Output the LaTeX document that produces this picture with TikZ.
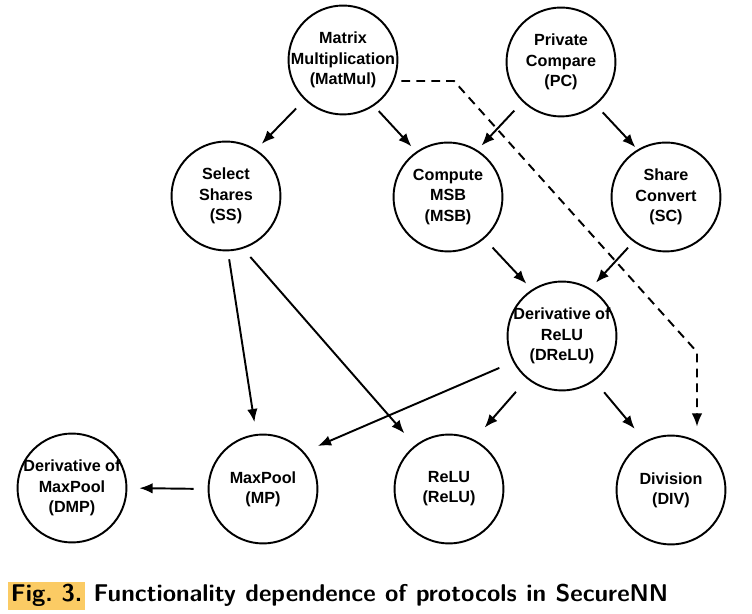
\documentclass[tikz,border=0pt]{standalone}
\usepackage{fontspec}
\setmainfont{Liberation Sans}
\usetikzlibrary{arrows.meta}
\definecolor{figyellow}{HTML}{FBCB64}
\tikzset{
  proto/.style={circle,draw,line width=1.1pt,minimum size=62pt,inner sep=-8pt,
    align=center,font=\fontsize{9.2}{11.5}\selectfont\bfseries},
  dep/.style={line width=1.1pt,-{Latex[length=7.5pt,width=6pt]}},
  depdash/.style={dep,dash pattern=on 5pt off 3.5pt},
  capfont/.style={font=\sffamily\bfseries\fontsize{13.8}{16}\selectfont},
}
\begin{document}
\begin{tikzpicture}[x=0.02cm,y=-0.02cm]
\useasboundingbox (0,0) rectangle (752,614);
% protocols
\node[proto] (mm)   at (343,60)  {Matrix\\Multiplication\\(MatMul)};
\node[proto] (pc)   at (561,62)  {Private\\Compare\\(PC)};
\node[proto] (ss)   at (226,196) {Select\\Shares\\(SS)};
\node[proto] (msb)  at (448,197) {Compute\\MSB\\(MSB)};
\node[proto] (sc)   at (666,197) {Share\\Convert\\(SC)};
\node[proto] (dr)   at (562,336) {Derivative of\\ReLU\\(DReLU)};
\node[proto] (dmp)  at (72,488)  {Derivative of\\MaxPool\\(DMP)};
\node[proto] (mp)   at (263,489) {MaxPool\\(MP)};
\node[proto] (relu) at (449,489) {ReLU\\(ReLU)};
\node[proto] (dv)   at (671,490) {Division\\(DIV)};
% dependences
\foreach \a/\b/\s/\e in {mm.226/ss.57/12/8, mm.304/msb.125/7/7, pc.226/msb.58/12/6,
  pc.309/sc.121/10/3, msb.311/dr.123/12/8, sc.234/dr.59/8/8, ss.272/mp.97/8/12,
  ss.288/relu.128/11/16, dr.208/mp.42/15/15, dr.231/relu.63/17/16,
  dr.306/dv.118/15/16, mp.180/dmp.0/14/12}
  \draw[dep,shorten <=\s*0.567pt,shorten >=\e*0.567pt] (\a) -- (\b);
\coordinate (bendA) at (454,81);
\coordinate (bendB) at (697,352);
\draw[depdash,shorten <=3*0.567pt,shorten >=8*0.567pt]
  (bendA -| mm.east) -- (bendA) -- (bendB) -- (bendB |- dv.north);
% caption
\node[capfont,fill=figyellow,anchor=base west,inner xsep=1.5pt,inner ysep=1.5pt,
  text height=9.8pt,text depth=2.8pt] (figtag) at (8,602) {Fig.~3.};
\node[capfont,anchor=base west,inner sep=0pt] (captext) at ([xshift=4.5pt]figtag.base east)
  {\makebox[327pt][s]{Functionality dependence of protocols in SecureNN}};
\end{tikzpicture}
\end{document}
